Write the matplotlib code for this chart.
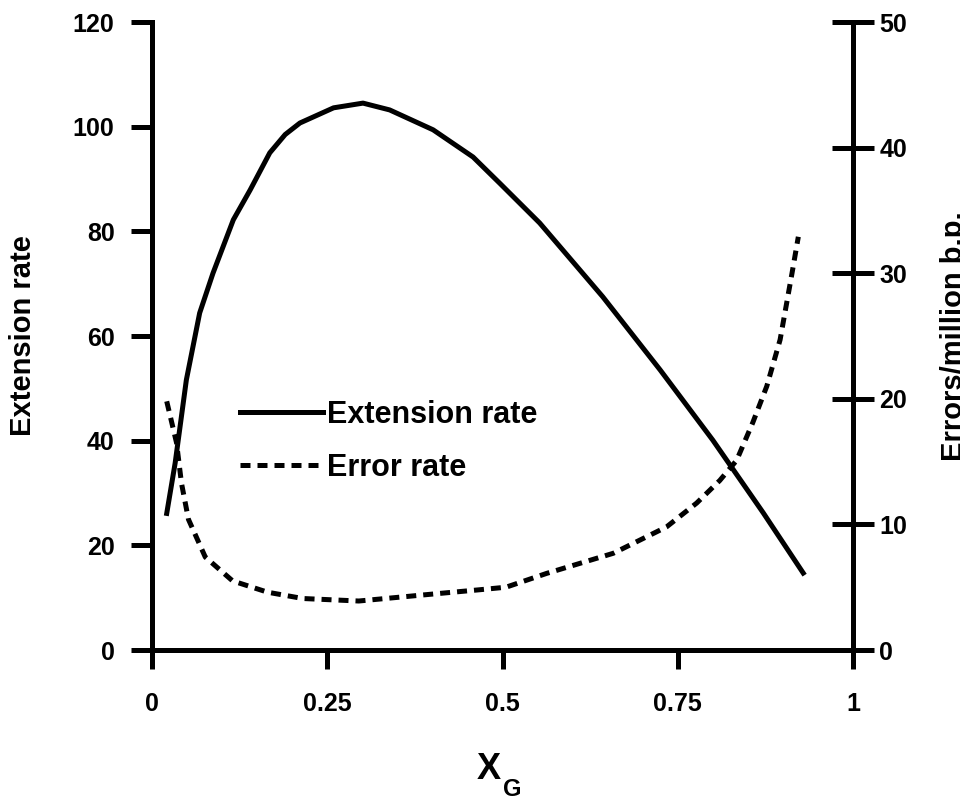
import matplotlib
matplotlib.use("Agg")
import matplotlib.pyplot as plt

# Schrift: fett, Arial-ähnlich
plt.rcParams['font.family'] = ['Liberation Sans', 'DejaVu Sans']
plt.rcParams['font.weight'] = 'bold'

# Daten
ext_x = [0.021, 0.033, 0.049, 0.068, 0.087, 0.116, 0.140, 0.168, 0.190, 0.211, 0.259,
         0.301, 0.339, 0.401, 0.458, 0.496, 0.553, 0.643, 0.725, 0.800, 0.872, 0.929]
ext_rate = [26.1, 35.7, 51.6, 64.4, 72.0, 82.2, 87.9, 95.0, 98.5, 100.7, 103.6,
            104.5, 103.2, 99.4, 94.2, 89.2, 81.6, 67.5, 53.5, 40.1, 26.2, 14.7]

err_x = [0.021, 0.035, 0.042, 0.052, 0.076, 0.115, 0.165, 0.215, 0.295, 0.39,
         0.468, 0.505, 0.563, 0.658, 0.734, 0.777, 0.810, 0.834, 0.857, 0.877,
         0.896, 0.913, 0.922]
err_rate = [19.8, 16.5, 13.3, 10.4, 7.4, 5.5, 4.6, 4.1, 3.9, 4.4,
            4.8, 5.0, 6.1, 7.7, 9.8, 11.7, 13.5, 15.1, 18.1, 21.0,
            24.7, 30.0, 32.9]

x_ticks = [0, 0.25, 0.5, 0.75, 1]
x_ticklabels = ["0", "0.25", "0.5", "0.75", "1"]
left_ticks = [0, 20, 40, 60, 80, 100, 120]
right_ticks = [0, 10, 20, 30, 40, 50]

fig = plt.figure(figsize=(9.6, 8.01), dpi=100)
ax = fig.add_axes([152/960, 1 - 650/801, 701/960, 628/801])
ax2 = ax.twinx()

lw = 3.6
l1, = ax.plot(ext_x, ext_rate, color="black", lw=lw, label="Extension rate")
l2, = ax2.plot(err_x, err_rate, color="black", lw=lw, dashes=(2.0, 1.4),
               label="Error rate")

ax.set_xlim(0, 1)
ax.set_ylim(0, 120)
ax2.set_ylim(0, 50)

ax.set_xticks(x_ticks)
ax.set_xticklabels(x_ticklabels)
ax.set_yticks(left_ticks)
ax2.set_yticks(right_ticks)

for s in ["top", "right"]:
    ax.spines[s].set_visible(False)
for s in ["top", "left", "bottom"]:
    ax2.spines[s].set_visible(False)
for s in ["left", "bottom"]:
    ax.spines[s].set_linewidth(3.6)
ax2.spines["right"].set_linewidth(3.6)

ax.tick_params(axis="y", direction="out", length=15, width=3.6, pad=12, labelsize=18)
ax.tick_params(axis="x", direction="out", length=14, width=3.6, pad=16, labelsize=18)
ax2.tick_params(axis="y", direction="inout", length=30, width=3.6, pad=4, labelsize=18)

ax.set_ylabel("Extension rate", fontsize=21, fontweight="bold")
ax.yaxis.set_label_coords(-0.164, 0.5)
ax2.set_ylabel("Errors/million b.p.", fontsize=21, fontweight="bold")
ax2.yaxis.set_label_coords(1.124, 0.5)

# X-Achsenbeschriftung: X mit tief gesetztem Index G
fig.text(501/960, 1 - 752/801, "X", fontsize=26, fontweight="bold",
         ha="right", va="top")
fig.text(503/960, 1 - 778/801, "G", fontsize=17, fontweight="bold",
         ha="left", va="top")

ax.legend([l1, l2], ["Extension rate", "Error rate"], loc="center left",
          bbox_to_anchor=((240 - 152) / 701, 0.332), frameon=False,
          borderpad=0, borderaxespad=0, handlelength=2.7, handletextpad=0.15,
          labelspacing=0.75, prop={"size": 22, "weight": "bold"})

fig.savefig("out.png", dpi=100)
plt.close(fig)
